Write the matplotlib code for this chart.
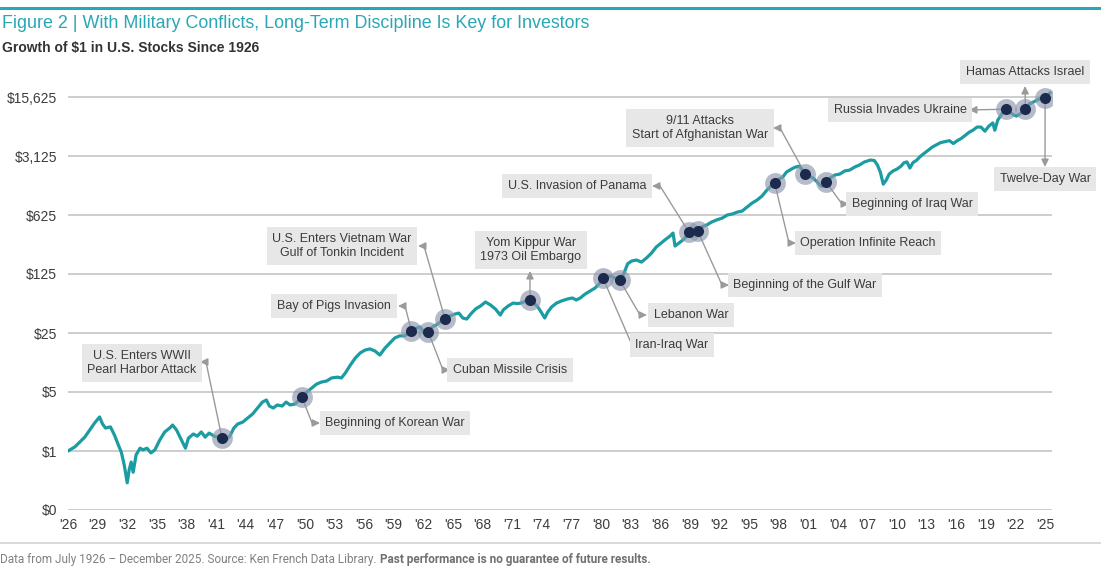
import matplotlib
matplotlib.use('Agg')
import matplotlib.pyplot as plt
from matplotlib.lines import Line2D
from matplotlib.ticker import FixedLocator, NullLocator

W, H = 1101, 566

# Growth of $1 (decimal year on the chart's axis, dollars)
years_1926 = [1926.0, 1926.7, 1927.2, 1927.7, 1928.2, 1928.7, 1929.2, 1929.5, 1929.8, 1930.3,
              1930.7, 1931.1, 1931.4, 1931.7, 1932.0, 1932.2, 1932.4, 1932.6, 1932.9, 1933.3,
              1933.6, 1934.0, 1934.4, 1934.8, 1935.3, 1935.8]
values_1926 = [1.00, 1.12, 1.28, 1.46, 1.77, 2.15, 2.53, 2.09, 1.87, 1.93,
               1.55, 1.18, 0.97, 0.68, 0.42, 0.60, 0.74, 0.56, 0.90, 1.08,
               1.03, 1.08, 0.95, 1.03, 1.35, 1.68]

years_1936 = [1936.3, 1936.6, 1937.0, 1937.5, 1937.9, 1938.2, 1938.7, 1939.1, 1939.5, 1939.9,
              1940.3, 1940.8, 1941.2, 1941.6, 1942.0, 1942.4, 1942.8, 1943.2, 1943.7, 1944.2,
              1944.7, 1945.2, 1945.7, 1946.1, 1946.4, 1946.8, 1947.2, 1947.7, 1948.1, 1948.5,
              1949.0, 1949.4, 1949.7]
values_1936 = [1.87, 2.03, 1.77, 1.35, 1.08, 1.42, 1.59, 1.50, 1.68, 1.46,
               1.63, 1.50, 1.46, 1.42, 1.35, 1.50, 1.87, 2.09, 2.20, 2.46,
               2.74, 3.23, 3.80, 4.02, 3.41, 3.23, 3.51, 3.41, 3.80, 3.51,
               3.60, 4.02, 4.36]

years_1950 = [1950.2, 1950.7, 1951.2, 1951.7, 1952.2, 1952.7, 1953.3, 1953.7, 1954.1, 1954.6,
              1955.1, 1955.6, 1956.1, 1956.6, 1957.1, 1957.6, 1958.1, 1958.6, 1959.1, 1959.6,
              1960.1, 1960.8, 1961.3, 1961.7, 1962.1, 1962.5, 1962.9, 1963.3, 1963.7, 1964.2,
              1964.7, 1965.2, 1965.6]
values_1950 = [5.00, 5.58, 6.22, 6.57, 6.75, 7.33, 7.50, 7.33, 8.4, 10.4,
               12.6, 14.5, 15.7, 16.2, 15.3, 13.7, 16.5, 19.0, 21.8, 23.1,
               23.1, 26.4, 28.6, 29.4, 25.0, 25.7, 29.4, 31.1, 33.7, 36.6,
               39.8, 41.9, 43.0]

years_1966 = [1966.0, 1966.4, 1966.8, 1967.3, 1967.8, 1968.3, 1968.8, 1969.3, 1969.8, 1970.1,
              1970.6, 1971.1, 1971.5, 1971.9, 1972.4, 1972.8, 1973.2, 1973.6, 1974.0, 1974.3,
              1974.6, 1975.0, 1975.5, 1976.0, 1976.6, 1977.1, 1977.5, 1977.9, 1978.4, 1978.9,
              1979.4, 1979.9]
values_1966 = [37.6, 36.6, 41.9, 48.2, 52.3, 58.2, 53.7, 48.2, 40.8, 46.9,
               52.3, 56.6, 55.7, 56.6, 59.9, 61.5, 56.6, 50.9, 43.1, 37.6,
               44.2, 50.9, 56.6, 59.9, 63.2, 65.0, 61.5, 65.0, 72.4, 78.6,
               85.3, 97.6]

years_1980 = [1980.2, 1980.6, 1981.0, 1981.4, 1981.9, 1982.3, 1982.7, 1983.1, 1983.6, 1984.1,
              1984.6, 1985.1, 1985.6, 1986.1, 1986.6, 1987.0, 1987.3, 1987.5, 1987.9, 1988.3,
              1988.7, 1988.9, 1989.3, 1989.8, 1990.2, 1990.7, 1991.2, 1991.7, 1992.3, 1992.8]
values_1980 = [112, 115, 118, 112, 106, 125, 165, 178, 183, 173,
               193, 220, 261, 291, 325, 352, 382, 268, 291, 316,
               352, 393, 393, 404, 451, 475, 515, 545, 576, 625]

years_1993 = [1993.3, 1993.8, 1994.3, 1994.8, 1995.3, 1995.8, 1996.3, 1996.8, 1997.2, 1997.6,
              1998.0, 1998.4, 1998.8, 1999.3, 1999.7, 2000.1, 2000.4, 2000.7, 2001.1, 2001.5,
              2001.9, 2002.3, 2002.6, 2002.8, 2003.2, 2003.7, 2004.2, 2004.7, 2005.2, 2005.7,
              2006.2, 2006.7, 2007.3, 2007.7, 2008.0, 2008.3, 2008.6, 2008.9]
values_1993 = [642, 676, 696, 776, 864, 937, 1044, 1230, 1370, 1490,
               1660, 1750, 2020, 2190, 2310, 2370, 2130, 1910, 1810, 1710,
               1540, 1370, 1390, 1540, 1710, 1860, 1910, 2080, 2130, 2310,
               2450, 2660, 2800, 2760, 2450, 2020, 1450, 1620]

years_2009 = [2009.2, 2009.6, 2010.0, 2010.4, 2010.7, 2011.0, 2011.3, 2011.6, 2012.0, 2012.4,
              2012.8, 2013.2, 2013.6, 2014.0, 2014.4, 2014.9, 2015.3, 2015.7, 2016.1, 2016.5,
              2016.9, 2017.3, 2017.7, 2018.1, 2018.5, 2018.9, 2019.3, 2019.7, 2019.9, 2020.2,
              2020.6, 2021.0, 2021.4, 2021.8, 2022.1, 2022.6, 2023.0, 2023.4, 2023.8, 2024.2,
              2024.6, 2025.0, 2025.5]
values_2009 = [1910, 2080, 2190, 2370, 2600, 2660, 2250, 2600, 2800, 3125,
               3400, 3690, 4010, 4250, 4500, 4630, 4750, 4390, 4750, 5040,
               5490, 5970, 6330, 6880, 6880, 6150, 7070, 7700, 6310, 8300,
               9790, 11200, 10400, 9600, 9300, 10100, 11200, 12900, 13600, 14400,
               15100, 15200, 17500]

# Conflict events marked on the line
event_labels = ["U.S. Enters WWII\nPearl Harbor Attack", "Beginning of Korean War",
                "Bay of Pigs Invasion", "Cuban Missile Crisis",
                "U.S. Enters Vietnam War\nGulf of Tonkin Incident", "Yom Kippur War\n1973 Oil Embargo",
                "Iran-Iraq War", "Lebanon War", "U.S. Invasion of Panama", "Beginning of the Gulf War",
                "Operation Infinite Reach", "9/11 Attacks\nStart of Afghanistan War",
                "Beginning of Iraq War", "Russia Invades Ukraine", "Hamas Attacks Israel",
                "Twelve-Day War"]
event_years = [1941.6, 1949.7, 1960.8, 1962.5, 1964.2, 1972.8, 1980.2, 1981.9, 1988.9, 1989.8,
               1997.6, 2000.7, 2002.8, 2021.0, 2023.0, 2025.0]
event_values = [1.42, 4.36, 26.4, 25.7, 36.6, 61.5, 112, 106, 393, 404,
                1490, 1910, 1540, 11200, 11200, 15200]

y_ticks = [0.2, 1, 5, 25, 125, 625, 3125, 15625]
y_tick_labels = ['$0', '$1', '$5', '$25', '$125', '$625', '$3,125', '$15,625']
x_ticks = list(range(1926, 2026, 3))
x_tick_labels = ["'%02d" % (y % 100) for y in x_ticks]

# label box centre, elbow and arrow tip, in pixels of the 1101x566 picture
label_layout = [
    ((142, 363), (206, 362), (200, 362)),
    ((395, 423), (312, 423), (320, 423)),
    ((334, 306), (405, 306), (398, 306)),
    ((510, 370), (443, 370), (450, 370)),
    ((342, 246), (424, 246), (418, 246)),
    ((531, 250), None, (530, 271)),
    ((672, 345), (632, 345), (639, 345)),
    ((691, 315), (640, 315), (647, 315)),
    ((577, 186), (660, 186), (652, 186)),
    ((805, 285), (722, 285), (729, 285)),
    ((868, 243), (789, 243), (796, 243)),
    ((700, 128), (780, 128), (773, 128)),
    ((912, 204), (842, 204), (849, 204)),
    ((900, 110), None, (969, 110)),
    ((1025, 72), None, (1025, 86)),
    ((1045, 179), None, (1045, 167)),
]

TEAL = '#1b9ca3'
TITLE_TEAL = '#2aa7b4'
NAVY = '#1c2a4e'
GRAY_TEXT = '#3c3c3c'
ARROW_GRAY = '#9a9a9a'
SANS = ['Liberation Sans', 'DejaVu Sans']


def px(x, y):
    """Pixel position (from the top left) to figure fraction."""
    return (x / W, 1 - y / H)


def main():
    plt.rcParams['font.family'] = SANS
    fig = plt.figure(figsize=(W / 100, H / 100), dpi=100)
    fig.patch.set_facecolor('white')

    left, right = 68 / W, 1052 / W
    bottom, top = 1 - 510 / H, 1 - 55 / H
    ax = fig.add_axes([left, bottom, right - left, top - bottom])

    years = years_1926 + years_1936 + years_1950 + years_1966 + years_1980 + years_1993 + years_2009
    values = values_1926 + values_1936 + values_1950 + values_1966 + values_1980 + values_1993 + values_2009

    ax.plot(years, values, color=TEAL, lw=2.3, zorder=3, solid_joinstyle='round')
    ax.set_yscale('log')
    ax.set_xlim(1926, 1926 + (1052 - 68) / 9.87)
    ax.set_ylim(0.2, 0.2 * 5 ** ((510 - 55) / 59))

    ax.yaxis.set_major_locator(FixedLocator(y_ticks))
    ax.yaxis.set_minor_locator(NullLocator())
    ax.set_yticklabels(y_tick_labels)
    ax.set_xticks(x_ticks)
    ax.set_xticklabels(x_tick_labels)
    ax.tick_params(axis='both', length=0, labelsize=10, labelcolor=GRAY_TEXT)
    ax.tick_params(axis='y', pad=8)
    ax.tick_params(axis='x', pad=6)
    for spine in ax.spines.values():
        spine.set_visible(False)
    for yt in y_ticks:
        ax.axhline(yt, color='#c9c9c9', lw=1.3, zorder=1)

    # event markers
    ax.plot(event_years, event_values, 'o', ms=15, color='#8e97ad', alpha=0.65, mec='none', zorder=4)
    ax.plot(event_years, event_values, 'o', ms=8, color=NAVY, mec='none', zorder=5)

    # labels and arrows
    for label, yr, val, (centre, elbow, tip) in zip(event_labels, event_years, event_values, label_layout):
        fig.text(*px(*centre), label, ha='center', va='center', multialignment='center',
                 fontsize=9, color=GRAY_TEXT, linespacing=1.3,
                 bbox=dict(boxstyle='square,pad=0.45', fc='#e7e7e7', ec='none'))
        head = dict(arrowstyle='-|>,head_length=0.45,head_width=0.22', color=ARROW_GRAY,
                    lw=1.0, shrinkA=0, shrinkB=0, mutation_scale=10)
        if elbow is None:
            ax.annotate('', xy=px(*tip), xycoords='figure fraction', xytext=(yr, val),
                        textcoords='data', arrowprops=head, zorder=2)
        else:
            ax.annotate('', xy=px(*elbow), xycoords='figure fraction', xytext=(yr, val),
                        textcoords='data', zorder=2,
                        arrowprops=dict(arrowstyle='-', color=ARROW_GRAY, lw=1.0, shrinkA=0, shrinkB=0))
            ax.annotate('', xy=px(*tip), xycoords='figure fraction', xytext=px(*elbow),
                        textcoords='figure fraction', arrowprops=head, zorder=2)

    # header
    fig.add_artist(Line2D([0, 1], [1 - 8 / H] * 2, color=TITLE_TEAL, lw=2.2))
    fig.text(0.002, 1 - 24 / H, 'Figure 2 | With Military Conflicts, Long-Term Discipline Is Key for Investors',
             fontsize=12.9, color=TITLE_TEAL, va='center', ha='left')
    fig.text(0.002, 1 - 48 / H, 'Growth of $1 in U.S. Stocks Since 1926', fontsize=10,
             weight='bold', color='#333333', va='center', ha='left')

    # footer
    fig.add_artist(Line2D([0, 1], [1 - 543 / H] * 2, color='#d2d2d2', lw=1.2))
    note = fig.text(0.0, 1 - 560 / H, 'Data from July 1926 \u2013 December 2025. Source: Ken French Data Library. ',
                    fontsize=8.5, family=['Roboto', 'DejaVu Sans'], color='#808080', va='center', ha='left')
    fig.canvas.draw()
    bb = note.get_window_extent().transformed(fig.transFigure.inverted())
    fig.text(bb.x1, 1 - 560 / H, 'Past performance is no guarantee of future results.',
             fontsize=8.5, family=['Roboto', 'DejaVu Sans'], weight='bold', color='#707070',
             va='center', ha='left')

    fig.savefig('out.png', dpi=100, facecolor='white')


if __name__ == '__main__':
    main()
